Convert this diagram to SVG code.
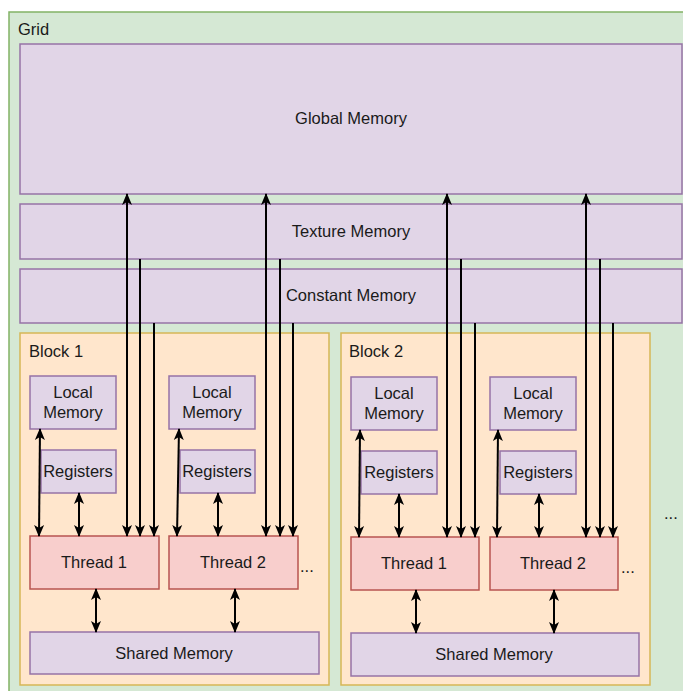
<svg xmlns="http://www.w3.org/2000/svg" width="683" height="691" viewBox="0 0 683 691">
<defs>
<marker id="ah" markerUnits="userSpaceOnUse" markerWidth="12" markerHeight="12" viewBox="0 0 12 10" refX="11" refY="5" orient="auto-start-reverse">
<path d="M0,0 L12,5 L0,10 L3,5 z" fill="#000"/>
</marker>
</defs>
<style>
text{font-family:"Liberation Sans",Arial,sans-serif;font-size:16.5px;fill:#1a1a1a}
.c{text-anchor:middle;dominant-baseline:central}
.grid{fill:#d5e8d4;stroke:#82b366;stroke-width:1.5}
.mem{fill:#e1d5e7;stroke:#9673a6;stroke-width:1.5}
.blk{fill:#ffe6cc;stroke:#d6b656;stroke-width:1.5}
.thr{fill:#f8cecc;stroke:#b85450;stroke-width:1.5}
.ln{stroke:#000;stroke-width:2;fill:none}
</style>
<g id="grid"><rect class="grid" x="9" y="12" width="690" height="700"/><text x="18" y="35">Grid</text></g>
<g id="global"><rect class="mem" x="20" y="44" width="662" height="150"/><text class="c" x="351" y="118">Global Memory</text></g>
<g id="texture"><rect class="mem" x="20" y="204" width="662" height="55"/><text class="c" x="351" y="231">Texture Memory</text></g>
<g id="constant"><rect class="mem" x="20" y="269" width="662" height="54"/><text class="c" x="351" y="295">Constant Memory</text></g>
<g id="block1"><rect class="blk" x="20" y="333" width="309" height="352"/><text x="29" y="357">Block 1</text></g>
<g id="block2"><rect class="blk" x="341" y="333" width="309" height="352"/><text x="349" y="357">Block 2</text></g>
<g id="b1-local1"><rect class="mem" x="30" y="376" width="86" height="53"/><text class="c" x="73" y="392">Local</text><text class="c" x="73" y="412">Memory</text></g>
<g id="b1-reg1"><rect class="mem" x="41" y="450" width="75" height="43"/><text class="c" x="78" y="471">Registers</text></g>
<g id="b1-thread1"><rect class="thr" x="30" y="536" width="129" height="53"/><text class="c" x="94" y="562">Thread 1</text></g>
<g id="b1-local2"><rect class="mem" x="169" y="376" width="86" height="53"/><text class="c" x="212" y="392">Local</text><text class="c" x="212" y="412">Memory</text></g>
<g id="b1-reg2"><rect class="mem" x="180" y="450" width="75" height="43"/><text class="c" x="217" y="471">Registers</text></g>
<g id="b1-thread2"><rect class="thr" x="169" y="536" width="129" height="53"/><text class="c" x="233" y="562">Thread 2</text></g>
<g id="b1-dots"><text x="300" y="572">...</text></g>
<g id="b1-shared"><rect class="mem" x="30" y="632" width="289" height="42"/><text class="c" x="174" y="653">Shared Memory</text></g>
<g id="b2-local1"><rect class="mem" x="351" y="377" width="86" height="53"/><text class="c" x="394" y="393">Local</text><text class="c" x="394" y="413">Memory</text></g>
<g id="b2-reg1"><rect class="mem" x="361" y="451" width="76" height="43"/><text class="c" x="399" y="472">Registers</text></g>
<g id="b2-thread1"><rect class="thr" x="351" y="537" width="128" height="53"/><text class="c" x="414" y="563">Thread 1</text></g>
<g id="b2-local2"><rect class="mem" x="490" y="377" width="86" height="53"/><text class="c" x="533" y="393">Local</text><text class="c" x="533" y="413">Memory</text></g>
<g id="b2-reg2"><rect class="mem" x="500" y="451" width="76" height="43"/><text class="c" x="538" y="472">Registers</text></g>
<g id="b2-thread2"><rect class="thr" x="490" y="537" width="128" height="53"/><text class="c" x="553" y="563">Thread 2</text></g>
<g id="b2-dots"><text x="621" y="573">...</text></g>
<g id="b2-shared"><rect class="mem" x="351" y="633" width="288" height="43"/><text class="c" x="494" y="654">Shared Memory</text></g>
<g id="grid-dots"><text x="664" y="519">...</text></g>
<g id="connectors">
<line class="ln" x1="127" y1="194" x2="127" y2="536" marker-start="url(#ah)" marker-end="url(#ah)"/>
<line class="ln" x1="140" y1="259" x2="140" y2="536" marker-end="url(#ah)"/>
<line class="ln" x1="154" y1="323" x2="154" y2="536" marker-end="url(#ah)"/>
<line class="ln" x1="266" y1="194" x2="266" y2="536" marker-start="url(#ah)" marker-end="url(#ah)"/>
<line class="ln" x1="280" y1="259" x2="280" y2="536" marker-end="url(#ah)"/>
<line class="ln" x1="293" y1="323" x2="293" y2="536" marker-end="url(#ah)"/>
<line class="ln" x1="447" y1="194" x2="447" y2="537" marker-start="url(#ah)" marker-end="url(#ah)"/>
<line class="ln" x1="461" y1="259" x2="461" y2="537" marker-end="url(#ah)"/>
<line class="ln" x1="475" y1="323" x2="475" y2="537" marker-end="url(#ah)"/>
<line class="ln" x1="586" y1="194" x2="586" y2="537" marker-start="url(#ah)" marker-end="url(#ah)"/>
<line class="ln" x1="600" y1="259" x2="600" y2="537" marker-end="url(#ah)"/>
<line class="ln" x1="613" y1="323" x2="613" y2="537" marker-end="url(#ah)"/>
<line class="ln" x1="40" y1="429" x2="39" y2="536" marker-start="url(#ah)" marker-end="url(#ah)"/>
<line class="ln" x1="79" y1="493" x2="79" y2="536" marker-start="url(#ah)" marker-end="url(#ah)"/>
<line class="ln" x1="96" y1="589" x2="96" y2="632" marker-start="url(#ah)" marker-end="url(#ah)"/>
<line class="ln" x1="179" y1="429" x2="177" y2="536" marker-start="url(#ah)" marker-end="url(#ah)"/>
<line class="ln" x1="218" y1="493" x2="218" y2="536" marker-start="url(#ah)" marker-end="url(#ah)"/>
<line class="ln" x1="235" y1="589" x2="235" y2="632" marker-start="url(#ah)" marker-end="url(#ah)"/>
<line class="ln" x1="360" y1="430" x2="359" y2="537" marker-start="url(#ah)" marker-end="url(#ah)"/>
<line class="ln" x1="399" y1="494" x2="399" y2="537" marker-start="url(#ah)" marker-end="url(#ah)"/>
<line class="ln" x1="416" y1="590" x2="416" y2="633" marker-start="url(#ah)" marker-end="url(#ah)"/>
<line class="ln" x1="498" y1="430" x2="497" y2="537" marker-start="url(#ah)" marker-end="url(#ah)"/>
<line class="ln" x1="539" y1="494" x2="539" y2="537" marker-start="url(#ah)" marker-end="url(#ah)"/>
<line class="ln" x1="554" y1="590" x2="554" y2="633" marker-start="url(#ah)" marker-end="url(#ah)"/>
</g>
</svg>
